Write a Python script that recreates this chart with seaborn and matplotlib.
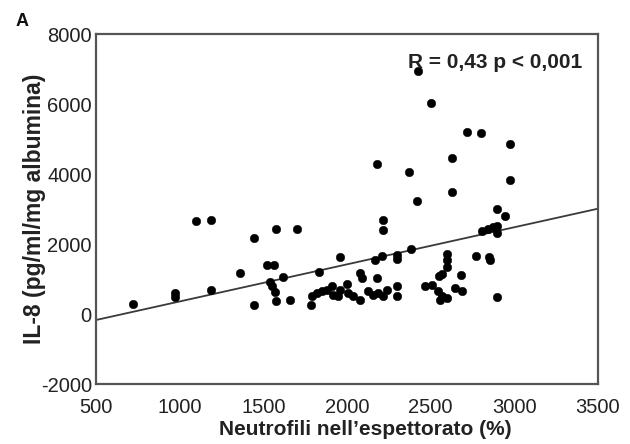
import matplotlib
matplotlib.use("Agg")
import matplotlib.pyplot as plt
import seaborn as sns
import pandas as pd

neutrofili = [720, 975, 975, 1100, 1190, 1190, 1360, 1445, 1445, 1520, 1565, 1540,
              1550, 1570, 1575, 1575, 1615, 1662, 1703, 1785, 1830, 1958, 1789, 1819,
              1849, 1879, 1909, 1919, 1948, 1958, 1998, 2008, 2038, 2078, 2088, 2078,
              2128, 2178, 2158, 2188, 2218, 2238, 2297, 2297, 2180, 2168, 2208, 2215,
              2215, 2297, 2297, 2380, 2372, 2420, 2422, 2504, 2466, 2506, 2546, 2566,
              2556, 2596, 2646, 2686, 2596, 2596, 2596, 2566, 2552, 2680, 2630, 2630,
              2715, 2800, 2769, 2851, 2855, 2805, 2845, 2875, 2899, 2899, 2899, 2945,
              2899, 2973, 2973]
il8 = [290, 600, 480, 2650, 2700, 690, 1160, 2170, 270, 1400, 1400, 910,
       790, 620, 380, 2430, 1070, 400, 2430, 250, 1200, 1640, 507, 600,
       648, 695, 808, 555, 507, 695, 864, 600, 526, 1164, 1023, 414,
       648, 1023, 555, 600, 507, 695, 789, 507, 4300, 1558, 1653, 2690,
       2400, 1700, 1560, 1850, 4045, 3240, 6950, 6017, 808, 836, 648, 507,
       414, 459, 741, 648, 1727, 1540, 1352, 1146, 1090, 1118, 4464, 3490,
       5200, 5180, 1653, 1634, 1540, 2386, 2431, 2479, 2527, 2310, 2994, 2808,
       488, 4864, 3830]

fit_x = [500, 3500]
fit_y = [-170, 3010]

x_ticks = [500, 1000, 1500, 2000, 2500, 3000, 3500]
y_ticks = [-2000, 0, 2000, 4000, 6000, 8000]

annotation = "R = 0,43 p < 0,001"
x_label = "Neutrofili nell\u2019espettorato (%)"
y_label = "IL-8 (pg/ml/mg albumina)"
panel_label = "A"

sns.set_theme(style="white")
plt.rcParams['font.family'] = ['Liberation Sans', 'DejaVu Sans']

df = pd.DataFrame({"x": neutrofili, "y": il8})
fit = pd.DataFrame({"x": fit_x, "y": fit_y})

fig = plt.figure(figsize=(6.3, 4.44), dpi=100)
ax = fig.add_axes([0.1524, 0.135, 0.7968, 0.7884])

sns.lineplot(data=fit, x="x", y="y", ax=ax, color="#3a3a3a", linewidth=1.3)
sns.scatterplot(data=df, x="x", y="y", ax=ax, color="black", s=38,
                edgecolor="black", linewidth=0.3, zorder=3)

ax.set_xlim(500, 3500)
ax.set_ylim(-2000, 8000)
ax.set_xticks(x_ticks)
ax.set_yticks(y_ticks)
ax.set_xticklabels([str(t) for t in x_ticks], fontsize=14.5, color="#222222")
ax.set_yticklabels([str(t) for t in y_ticks], fontsize=14.5, color="#222222")
ax.tick_params(axis="x", length=0, pad=10)
ax.tick_params(axis="y", length=0, pad=3)

ax.set_xlabel(x_label, fontsize=15, fontweight="bold", color="#222222")
ax.set_ylabel(y_label, fontsize=16.5, fontweight="bold", color="#222222")
ax.xaxis.set_label_coords(0.537, -0.104)
ax.yaxis.set_label_coords(-0.1, 0.5)

for sp in ax.spines.values():
    sp.set_color("#555555")
    sp.set_linewidth(1.6)

ax.text(0.968, 0.92, annotation, transform=ax.transAxes, ha="right", va="center",
        fontsize=15, fontweight="bold", color="#222222")
fig.text(0.035, 0.952, panel_label, fontsize=13, fontweight="bold", color="#111111",
         ha="center", va="center")

fig.savefig("out.png", dpi=100)
